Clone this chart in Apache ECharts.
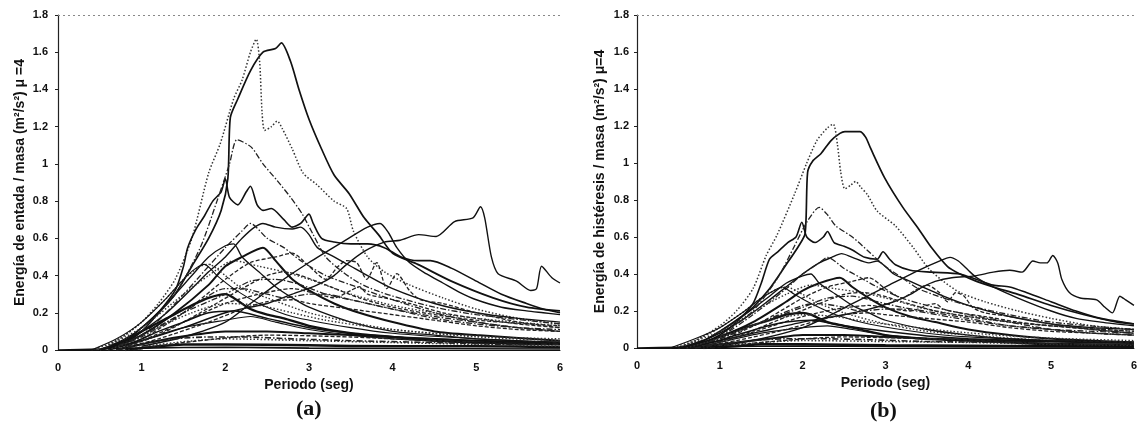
<!DOCTYPE html>
<html>
<head>
<meta charset="utf-8">
<script src="https://cdn.jsdelivr.net/npm/echarts@6/dist/echarts.min.js"></script>
<style>
  html, body { margin: 0; padding: 0; background: #fff; }
  #c { width: 1140px; height: 430px; }
</style>
</head>
<body>
<div id="c"></div>
<script>
// Period axis ticks (s) and energy axis range (m²/s²)
const periodTicks = [0, 1, 2, 3, 4, 5, 6];
const energyMax = 1.8;

// (a) Input energy per unit mass, μ = 4 — one [period, energy] list per record
const inA01 = [[0.5,0],[0.8,0.05],[1.0,0.12],[1.2,0.2],[1.4,0.3],[1.6,0.45],[1.8,0.6],[1.95,0.75],[2.03,0.92],[2.06,1.25],[2.15,1.35],[2.3,1.5],[2.45,1.6],[2.6,1.62],[2.67,1.65],[2.78,1.55],[2.88,1.4],[3.0,1.24],[3.15,1.08],[3.3,0.94],[3.48,0.84],[3.66,0.71],[3.83,0.62],[4.0,0.52],[4.3,0.46],[4.7,0.37],[5.2,0.28],[5.6,0.23],[6.0,0.21]];
const inA02 = [[0.4,0],[0.7,0.05],[1.0,0.15],[1.2,0.25],[1.4,0.38],[1.6,0.6],[1.8,0.95],[1.94,1.11],[2.1,1.35],[2.2,1.45],[2.3,1.6],[2.37,1.67],[2.41,1.55],[2.44,1.27],[2.47,1.18],[2.55,1.2],[2.62,1.23],[2.68,1.19],[2.8,1.08],[2.93,0.95],[3.09,0.89],[3.3,0.8],[3.45,0.76],[3.53,0.64],[3.7,0.5],[3.9,0.42],[4.2,0.35],[4.6,0.28],[5.0,0.22],[5.5,0.17],[6.0,0.14]];
const inA03 = [[0.5,0],[0.8,0.04],[1.0,0.1],[1.2,0.2],[1.4,0.32],[1.5,0.45],[1.55,0.55],[1.65,0.65],[1.75,0.72],[1.85,0.8],[1.95,0.85],[2.0,0.92],[2.05,0.82],[2.15,0.78],[2.25,0.85],[2.3,0.88],[2.38,0.78],[2.45,0.75],[2.55,0.76],[2.7,0.7],[2.8,0.66],[2.9,0.68],[3.0,0.73],[3.05,0.68],[3.15,0.6],[3.3,0.58],[3.5,0.57],[3.7,0.57],[3.9,0.55],[4.1,0.5],[4.3,0.48],[4.45,0.48],[4.7,0.44],[5.0,0.37],[5.3,0.3],[5.6,0.25],[5.8,0.22],[6.0,0.2]];
const inA04 = [[1.0,0.02],[1.5,0.07],[2.0,0.15],[2.3,0.25],[2.6,0.35],[3.0,0.47],[3.4,0.58],[3.7,0.66],[3.85,0.68],[3.95,0.63],[4.05,0.55],[4.2,0.47],[4.4,0.41],[4.6,0.36],[4.8,0.31],[5.0,0.27],[5.3,0.23],[5.6,0.21],[5.8,0.2],[6.0,0.19]];
const inA05 = [[0.5,0],[1.0,0.05],[1.5,0.12],[2.0,0.2],[2.5,0.25],[2.8,0.3],[3.1,0.35],[3.3,0.4],[3.45,0.46],[3.66,0.53],[3.9,0.58],[4.09,0.59],[4.31,0.62],[4.52,0.61],[4.74,0.69],[4.96,0.71],[5.05,0.77],[5.1,0.71],[5.18,0.5],[5.26,0.41],[5.48,0.37],[5.65,0.32],[5.72,0.33],[5.78,0.45],[5.9,0.39],[6.0,0.36]];
const inA06 = [[0.5,0],[0.8,0.05],[1.0,0.1],[1.3,0.2],[1.6,0.33],[1.8,0.42],[2.0,0.5],[2.2,0.6],[2.35,0.66],[2.45,0.68],[2.6,0.66],[2.8,0.65],[2.9,0.66],[3.0,0.62],[3.1,0.55],[3.3,0.5],[3.5,0.45],[3.7,0.4],[4.0,0.33],[4.5,0.25],[5.0,0.2],[5.5,0.17],[6.0,0.15]];
const inA07 = [[0.6,0],[1.0,0.08],[1.4,0.25],[1.8,0.45],[2.0,0.55],[2.2,0.64],[2.3,0.68],[2.5,0.6],[2.7,0.55],[2.9,0.48],[3.2,0.4],[3.5,0.35],[4.0,0.27],[4.5,0.2],[5.0,0.15],[5.5,0.12],[6.0,0.1]];
const inA08 = [[0.5,0],[0.8,0.06],[1.0,0.12],[1.3,0.25],[1.6,0.4],[1.8,0.5],[2.0,0.56],[2.1,0.57],[2.2,0.5],[2.4,0.42],[2.6,0.34],[2.8,0.28],[3.0,0.23],[3.5,0.15],[4.0,0.1],[4.5,0.08],[5.0,0.06],[6.0,0.04]];
const inA09 = [[0.6,0],[1.0,0.08],[1.4,0.2],[1.8,0.35],[2.0,0.45],[2.2,0.5],[2.45,0.55],[2.6,0.48],[2.8,0.38],[3.0,0.32],[3.3,0.25],[3.6,0.2],[4.0,0.15],[4.5,0.1],[5.0,0.08],[6.0,0.05]];
const inA10 = [[0.6,0],[1.0,0.06],[1.5,0.2],[2.0,0.38],[2.3,0.47],[2.6,0.5],[2.8,0.52],[3.0,0.45],[3.2,0.38],[3.35,0.45],[3.45,0.48],[3.57,0.47],[3.69,0.38],[3.81,0.47],[3.93,0.33],[4.05,0.41],[4.2,0.32],[4.33,0.27],[4.6,0.25],[5.0,0.2],[5.5,0.15],[6.0,0.12]];
const inA11 = [[0.5,0],[0.8,0.05],[1.0,0.1],[1.3,0.17],[1.6,0.24],[1.8,0.28],[2.0,0.3],[2.1,0.28],[2.3,0.22],[2.5,0.19],[2.7,0.17],[3.0,0.13],[3.5,0.09],[4.0,0.07],[4.5,0.05],[5.0,0.04],[6.0,0.03]];
const inA12 = [[0.5,0],[0.8,0.08],[1.0,0.15],[1.3,0.28],[1.5,0.38],[1.7,0.45],[1.8,0.46],[2.0,0.4],[2.2,0.33],[2.5,0.28],[3.0,0.2],[3.5,0.15],[4.0,0.11],[5.0,0.07],[6.0,0.05]];
const inA13 = [[0.6,0],[1.0,0.08],[1.5,0.2],[2.0,0.33],[2.2,0.33],[2.5,0.3],[2.7,0.28],[3.0,0.3],[3.2,0.3],[3.5,0.27],[4.0,0.22],[4.5,0.18],[5.0,0.15],[5.5,0.12],[6.0,0.1]];
const inA14 = [[0.7,0],[1.0,0.05],[1.5,0.12],[2.0,0.16],[2.3,0.18],[2.6,0.15],[3.0,0.11],[3.5,0.08],[4.0,0.06],[5.0,0.04],[6.0,0.03]];
const inA15 = [[0.7,0],[1.2,0.06],[1.8,0.15],[2.2,0.22],[2.5,0.26],[2.8,0.27],[3.0,0.25],[3.5,0.22],[4.0,0.19],[4.5,0.16],[5.0,0.13],[5.5,0.11],[6.0,0.1]];
const inA16 = [[0.7,0],[1.2,0.05],[1.6,0.08],[2.0,0.1],[2.5,0.1],[3.0,0.09],[3.5,0.08],[4.0,0.07],[5.0,0.05],[6.0,0.04]];
const inA17 = [[0.8,0],[1.2,0.02],[1.5,0.03],[2.0,0.03],[3.0,0.025],[4.0,0.02],[5.0,0.02],[6.0,0.015]];
const inA18 = [[0.6,0],[1.0,0.05],[1.5,0.15],[2.0,0.25],[2.4,0.3],[2.8,0.33],[3.1,0.3],[3.3,0.28],[3.5,0.32],[3.6,0.34],[3.7,0.3],[3.9,0.28],[4.2,0.25],[4.6,0.2],[5.0,0.17],[5.5,0.14],[6.0,0.12]];
const inA19 = [[0.5,0],[1.0,0.12],[1.5,0.3],[1.8,0.4],[2.1,0.48],[2.4,0.45],[2.7,0.42],[3.0,0.38],[3.5,0.3],[4.0,0.24],[4.5,0.2],[5.0,0.17],[6.0,0.13]];
const inA20 = [[0.4,0],[0.7,0.06],[1.0,0.15],[1.3,0.28],[1.5,0.38],[1.65,0.44],[1.75,0.46],[1.9,0.4],[2.1,0.33],[2.4,0.25],[2.8,0.18],[3.5,0.12],[4.0,0.09],[5.0,0.06],[6.0,0.04]];
const inA21 = [[0.6,0],[1.0,0.07],[1.5,0.2],[2.0,0.3],[2.3,0.37],[2.6,0.38],[2.9,0.35],[3.2,0.3],[3.6,0.26],[4.0,0.22],[4.5,0.17],[5.0,0.14],[5.5,0.12],[6.0,0.11]];
const inA22 = [[0.7,0],[1.2,0.08],[1.7,0.2],[2.2,0.33],[2.5,0.4],[2.7,0.42],[2.9,0.4],[3.2,0.35],[3.6,0.28],[4.0,0.23],[4.5,0.19],[5.0,0.16],[6.0,0.13]];
const inA23 = [[1.0,0.1],[1.4,0.3],[1.7,0.55],[1.9,0.8],[2.05,1.0],[2.14,1.13],[2.31,1.09],[2.45,1.0],[2.62,0.91],[2.78,0.82],[2.92,0.73],[3.05,0.62],[3.2,0.5],[3.4,0.42],[3.6,0.36],[3.8,0.32],[4.0,0.29],[4.5,0.23],[5.0,0.19],[6.0,0.14]];
const inA24 = [[0.8,0],[1.2,0.03],[2.0,0.06],[3.0,0.05],[4.0,0.04],[5.0,0.03],[6.0,0.02]];
const inA25 = [[0.9,0],[1.5,0.04],[2.5,0.08],[3.5,0.07],[4.5,0.05],[6.0,0.04]];
const inA26 = [[0.0,0],[0.5,0.005],[1.0,0.01],[2.0,0.015],[3.0,0.01],[4.0,0.008],[6.0,0.005]];
const inA27 = [[0.6,0],[0.9,0.04],[1.2,0.1],[1.5,0.15],[1.8,0.2],[2.1,0.21],[2.5,0.17],[3.0,0.12],[3.5,0.09],[4.0,0.07],[5.0,0.05],[6.0,0.035]];
const inA28 = [[0.7,0],[1.0,0.03],[1.4,0.06],[1.8,0.07],[2.2,0.07],[2.8,0.06],[3.5,0.05],[4.5,0.04],[5.5,0.03],[6.0,0.03]];
const inA29 = [[0.6,0],[0.9,0.05],[1.2,0.12],[1.6,0.2],[2.0,0.25],[2.4,0.24],[2.8,0.2],[3.2,0.16],[3.8,0.12],[4.5,0.09],[5.2,0.07],[6.0,0.06]];

// (b) Hysteretic energy per unit mass, μ = 4
const hyB01 = [[0.5,0],[0.8,0.04],[1.0,0.09],[1.2,0.15],[1.4,0.22],[1.6,0.32],[1.8,0.45],[1.95,0.55],[2.03,0.62],[2.06,0.95],[2.12,1.01],[2.22,1.05],[2.34,1.12],[2.45,1.16],[2.51,1.17],[2.69,1.17],[2.76,1.14],[2.82,1.08],[2.99,0.92],[3.21,0.76],[3.39,0.65],[3.56,0.54],[3.75,0.44],[3.9,0.4],[4.1,0.36],[4.3,0.33],[4.6,0.29],[5.0,0.23],[5.4,0.18],[5.8,0.14],[6.0,0.13]];
const hyB02 = [[0.4,0],[0.7,0.04],[1.0,0.12],[1.2,0.2],[1.4,0.32],[1.56,0.5],[1.69,0.61],[1.9,0.83],[2.05,1.0],[2.17,1.12],[2.3,1.19],[2.37,1.21],[2.42,1.1],[2.46,0.95],[2.51,0.86],[2.58,0.88],[2.64,0.9],[2.7,0.87],[2.78,0.83],[2.9,0.74],[3.12,0.66],[3.34,0.54],[3.52,0.43],[3.7,0.36],[3.9,0.3],[4.2,0.25],[4.6,0.2],[5.0,0.16],[5.5,0.12],[6.0,0.1]];
const hyB03 = [[0.5,0],[0.8,0.03],[1.0,0.07],[1.2,0.14],[1.4,0.24],[1.5,0.35],[1.6,0.48],[1.7,0.52],[1.82,0.57],[1.92,0.6],[1.99,0.68],[2.05,0.6],[2.15,0.57],[2.25,0.6],[2.3,0.63],[2.38,0.57],[2.5,0.55],[2.6,0.53],[2.75,0.49],[2.9,0.48],[2.97,0.52],[3.05,0.48],[3.12,0.45],[3.3,0.42],[3.56,0.41],[3.9,0.4],[4.1,0.37],[4.3,0.34],[4.5,0.33],[4.7,0.3],[5.0,0.25],[5.3,0.2],[5.6,0.16],[6.0,0.13]];
const hyB04 = [[1.0,0.01],[1.5,0.05],[2.0,0.11],[2.3,0.17],[2.6,0.24],[3.0,0.33],[3.4,0.42],[3.65,0.47],[3.78,0.49],[3.88,0.47],[4.0,0.42],[4.1,0.38],[4.3,0.33],[4.6,0.27],[5.0,0.2],[5.3,0.16],[5.6,0.14],[6.0,0.12]];
const hyB05 = [[0.5,0],[1.0,0.04],[1.5,0.09],[2.0,0.14],[2.5,0.18],[2.8,0.21],[3.1,0.25],[3.3,0.29],[3.45,0.33],[3.6,0.36],[3.8,0.38],[4.08,0.39],[4.3,0.41],[4.5,0.42],[4.65,0.41],[4.78,0.47],[4.87,0.46],[4.95,0.46],[5.02,0.5],[5.08,0.46],[5.13,0.37],[5.22,0.3],[5.35,0.27],[5.55,0.26],[5.65,0.22],[5.74,0.19],[5.83,0.28],[5.9,0.26],[6.0,0.23]];
const hyB06 = [[0.5,0],[0.8,0.04],[1.0,0.08],[1.3,0.16],[1.6,0.26],[1.8,0.33],[2.0,0.4],[2.2,0.46],[2.35,0.49],[2.47,0.51],[2.6,0.49],[2.8,0.46],[2.9,0.47],[3.0,0.44],[3.1,0.4],[3.3,0.36],[3.5,0.32],[3.7,0.28],[4.0,0.23],[4.5,0.17],[5.0,0.13],[5.5,0.11],[6.0,0.1]];
const hyB07 = [[0.6,0],[1.0,0.06],[1.4,0.18],[1.8,0.32],[2.0,0.4],[2.2,0.46],[2.3,0.49],[2.5,0.43],[2.7,0.38],[2.9,0.33],[3.2,0.27],[3.5,0.23],[4.0,0.18],[4.5,0.14],[5.0,0.1],[5.5,0.08],[6.0,0.07]];
const hyB08 = [[0.5,0],[0.8,0.04],[1.0,0.09],[1.3,0.18],[1.6,0.28],[1.8,0.35],[2.0,0.39],[2.1,0.4],[2.2,0.35],[2.4,0.29],[2.6,0.23],[2.8,0.19],[3.0,0.15],[3.5,0.1],[4.0,0.07],[4.5,0.05],[5.0,0.04],[6.0,0.03]];
const hyB09 = [[0.6,0],[1.0,0.06],[1.4,0.14],[1.8,0.25],[2.0,0.31],[2.2,0.35],[2.45,0.38],[2.6,0.33],[2.8,0.27],[3.0,0.22],[3.3,0.17],[3.6,0.14],[4.0,0.1],[4.5,0.07],[5.0,0.05],[6.0,0.03]];
const hyB10 = [[0.6,0],[1.0,0.04],[1.5,0.14],[2.0,0.27],[2.3,0.33],[2.6,0.36],[2.8,0.38],[3.0,0.32],[3.2,0.27],[3.35,0.31],[3.5,0.34],[3.65,0.3],[3.75,0.25],[3.85,0.3],[3.95,0.28],[4.05,0.22],[4.2,0.19],[4.5,0.17],[5.0,0.13],[5.5,0.1],[6.0,0.08]];
const hyB11 = [[0.5,0],[0.8,0.03],[1.0,0.06],[1.3,0.11],[1.6,0.15],[1.8,0.18],[2.0,0.19],[2.1,0.18],[2.3,0.14],[2.5,0.12],[2.7,0.1],[3.0,0.07],[3.5,0.05],[4.0,0.04],[4.5,0.03],[5.0,0.02],[6.0,0.015]];
const hyB12 = [[0.5,0],[0.8,0.06],[1.0,0.11],[1.3,0.2],[1.5,0.27],[1.7,0.32],[1.8,0.33],[2.0,0.29],[2.2,0.24],[2.5,0.19],[3.0,0.13],[3.5,0.09],[4.0,0.07],[5.0,0.04],[6.0,0.03]];
const hyB13 = [[0.6,0],[1.0,0.05],[1.5,0.14],[2.0,0.23],[2.2,0.24],[2.5,0.22],[2.7,0.2],[3.0,0.21],[3.2,0.21],[3.5,0.19],[4.0,0.15],[4.5,0.12],[5.0,0.1],[5.5,0.08],[6.0,0.07]];
const hyB14 = [[0.7,0],[1.0,0.03],[1.5,0.08],[2.0,0.11],[2.3,0.12],[2.6,0.1],[3.0,0.07],[3.5,0.05],[4.0,0.04],[5.0,0.025],[6.0,0.02]];
const hyB15 = [[0.7,0],[1.2,0.04],[1.8,0.1],[2.2,0.15],[2.5,0.18],[2.8,0.19],[3.0,0.18],[3.5,0.16],[4.0,0.14],[4.5,0.11],[5.0,0.09],[5.5,0.08],[6.0,0.07]];
const hyB16 = [[0.7,0],[1.2,0.03],[1.6,0.05],[2.0,0.07],[2.5,0.07],[3.0,0.06],[3.5,0.05],[4.0,0.045],[5.0,0.035],[6.0,0.03]];
const hyB17 = [[0.8,0],[1.2,0.01],[1.5,0.02],[2.0,0.02],[3.0,0.015],[4.0,0.012],[5.0,0.01],[6.0,0.01]];
const hyB18 = [[0.6,0],[1.0,0.03],[1.5,0.1],[2.0,0.17],[2.4,0.21],[2.8,0.23],[3.1,0.21],[3.3,0.2],[3.5,0.23],[3.6,0.24],[3.7,0.21],[3.9,0.19],[4.2,0.17],[4.6,0.14],[5.0,0.12],[5.5,0.1],[6.0,0.08]];
const hyB19 = [[0.5,0],[1.0,0.09],[1.5,0.22],[1.8,0.29],[2.1,0.34],[2.4,0.32],[2.7,0.3],[3.0,0.27],[3.5,0.21],[4.0,0.17],[4.5,0.14],[5.0,0.12],[6.0,0.09]];
const hyB20 = [[0.4,0],[0.7,0.05],[1.0,0.11],[1.3,0.2],[1.5,0.27],[1.65,0.31],[1.75,0.33],[1.9,0.29],[2.1,0.24],[2.4,0.18],[2.8,0.13],[3.5,0.08],[4.0,0.06],[5.0,0.04],[6.0,0.03]];
const hyB21 = [[0.6,0],[1.0,0.05],[1.5,0.14],[2.0,0.22],[2.3,0.27],[2.6,0.28],[2.9,0.25],[3.2,0.22],[3.6,0.19],[4.0,0.16],[4.5,0.12],[5.0,0.1],[5.5,0.09],[6.0,0.08]];
const hyB22 = [[0.7,0],[1.2,0.06],[1.7,0.15],[2.2,0.24],[2.5,0.29],[2.7,0.3],[2.9,0.29],[3.2,0.25],[3.6,0.2],[4.0,0.17],[4.5,0.14],[5.0,0.12],[6.0,0.09]];
const hyB23 = [[1.0,0.06],[1.4,0.2],[1.7,0.38],[1.9,0.55],[2.05,0.68],[2.2,0.76],[2.3,0.72],[2.4,0.66],[2.6,0.6],[2.8,0.52],[3.0,0.44],[3.2,0.38],[3.4,0.32],[3.7,0.27],[4.0,0.23],[4.5,0.18],[5.0,0.14],[6.0,0.1]];
const hyB24 = [[0.8,0],[1.2,0.02],[2.0,0.04],[3.0,0.035],[4.0,0.03],[5.0,0.02],[6.0,0.015]];
const hyB25 = [[0.9,0],[1.5,0.03],[2.5,0.06],[3.5,0.05],[4.5,0.04],[6.0,0.03]];
const hyB26 = [[0.0,0],[0.5,0.004],[1.0,0.008],[2.0,0.01],[3.0,0.008],[4.0,0.006],[6.0,0.004]];
const hyB27 = [[0.6,0],[0.9,0.03],[1.2,0.07],[1.5,0.11],[1.8,0.14],[2.1,0.15],[2.5,0.12],[3.0,0.09],[3.5,0.065],[4.0,0.05],[5.0,0.035],[6.0,0.025]];
const hyB28 = [[0.7,0],[1.0,0.02],[1.4,0.04],[1.8,0.05],[2.2,0.05],[2.8,0.045],[3.5,0.035],[4.5,0.03],[5.5,0.02],[6.0,0.02]];
const hyB29 = [[0.6,0],[0.9,0.04],[1.2,0.09],[1.6,0.15],[2.0,0.18],[2.4,0.17],[2.8,0.14],[3.2,0.12],[3.8,0.09],[4.5,0.065],[5.2,0.05],[6.0,0.04]];

const curvesA = [inA01,inA02,inA03,inA04,inA05,inA06,inA07,inA08,inA09,inA10,inA11,inA12,inA13,inA14,inA15,inA16,inA17,inA18,inA19,inA20,inA21,inA22,inA23,inA24,inA25,inA26,inA27,inA28,inA29];
const curvesB = [hyB01,hyB02,hyB03,hyB04,hyB05,hyB06,hyB07,hyB08,hyB09,hyB10,hyB11,hyB12,hyB13,hyB14,hyB15,hyB16,hyB17,hyB18,hyB19,hyB20,hyB21,hyB22,hyB23,hyB24,hyB25,hyB26,hyB27,hyB28,hyB29];

// Stroke pattern and weight per record (same ordering in both panels)
const strokeKinds = ['solid','dotted','solid','solid','solid','solid','dashdot','solid','solid','dashed','solid','dotted','dashdot','solid','dashed','solid','solid','dashed','dotted','solid','dashdot','dashed','dashdot','dotted','dashed','solid','solid','dashdot','dotted'];
const strokeWidths = [1.7,1.5,1.6,1.4,1.4,1.4,1.3,1.3,2.0,1.3,2.3,1.4,1.3,1.2,1.3,2.0,2.5,1.3,1.4,1.1,1.3,1.3,1.3,1.5,1.4,1.6,1.5,1.6,1.4];

const strokeStyles = {
  solid:   { type: 'solid', color: '#111' },
  dotted:  { type: [1.5, 2], color: '#333' },
  dashed:  { type: [4, 2], color: '#222' },
  dashdot: { type: [6, 2, 1.5, 2], color: '#222' }
};

function buildSeries(curves, gridIndex) {
  return curves.map((pts, i) => {
    const s = strokeStyles[strokeKinds[i]];
    return {
      type: 'line',
      xAxisIndex: gridIndex,
      yAxisIndex: gridIndex,
      data: pts,
      symbol: 'none',
      smooth: 0.25,
      silent: true,
      lineStyle: { color: s.color, width: strokeWidths[i], type: s.type },
      markLine: i === 0 ? {
        silent: true, symbol: 'none', label: { show: false },
        lineStyle: { type: [2, 3], color: '#888', width: 1 },
        data: [{ yAxis: energyMax }]
      } : undefined
    };
  });
}

const axisFont = { fontFamily: 'Liberation Sans, Arial, sans-serif', fontWeight: 'bold', fontSize: 11, color: '#111' };
const nameFont = { fontFamily: 'Liberation Sans, Arial, sans-serif', fontWeight: 'bold', fontSize: 14, color: '#111' };

function xAxisFor(gridIndex) {
  return {
    type: 'value', gridIndex, min: periodTicks[0], max: periodTicks[periodTicks.length - 1], interval: 1,
    name: 'Periodo (seg)', nameLocation: 'middle', nameGap: 17, nameTextStyle: nameFont,
    axisLine: { show: true, lineStyle: { color: '#111', width: 1 } },
    axisTick: { show: false },
    axisLabel: Object.assign({ margin: 12 }, axisFont),
    splitLine: { show: false }
  };
}

function yAxisFor(gridIndex, title, gap, labelMargin) {
  return {
    type: 'value', gridIndex, min: 0, max: energyMax, interval: 0.2,
    name: title, nameLocation: 'middle', nameGap: gap, nameTextStyle: nameFont,
    axisLine: { show: true, lineStyle: { color: '#222', width: 1.2 } },
    axisTick: { show: true, length: 3, lineStyle: { color: '#222' } },
    axisLabel: Object.assign({ margin: labelMargin, formatter: v => String(Math.round(v * 10) / 10) }, axisFont),
    splitLine: { show: false }
  };
}

const chart = echarts.init(document.getElementById('c'), null, { renderer: 'canvas' });
chart.setOption({
  animation: false,
  backgroundColor: '#fff',
  grid: [
    { left: 58, top: 15, width: 502, height: 335 },
    { left: 637, top: 15, width: 500, height: 333 }
  ],
  xAxis: [xAxisFor(0), xAxisFor(1)],
  yAxis: [
    yAxisFor(0, 'Energía de entada / masa (m²/s²) μ =4', 31, 10),
    yAxisFor(1, 'Energía de histéresis / masa (m²/s²) μ=4', 30, 8)
  ],
  series: buildSeries(curvesA, 0).concat(buildSeries(curvesB, 1)),
  graphic: [
    { type: 'text', left: 296, top: 398, style: { text: '(a)', font: 'bold 22px "Liberation Serif", "Times New Roman", serif', fill: '#111' } },
    { type: 'text', left: 870, top: 400, style: { text: '(b)', font: 'bold 22px "Liberation Serif", "Times New Roman", serif', fill: '#111' } }
  ]
});
</script>
</body>
</html>
